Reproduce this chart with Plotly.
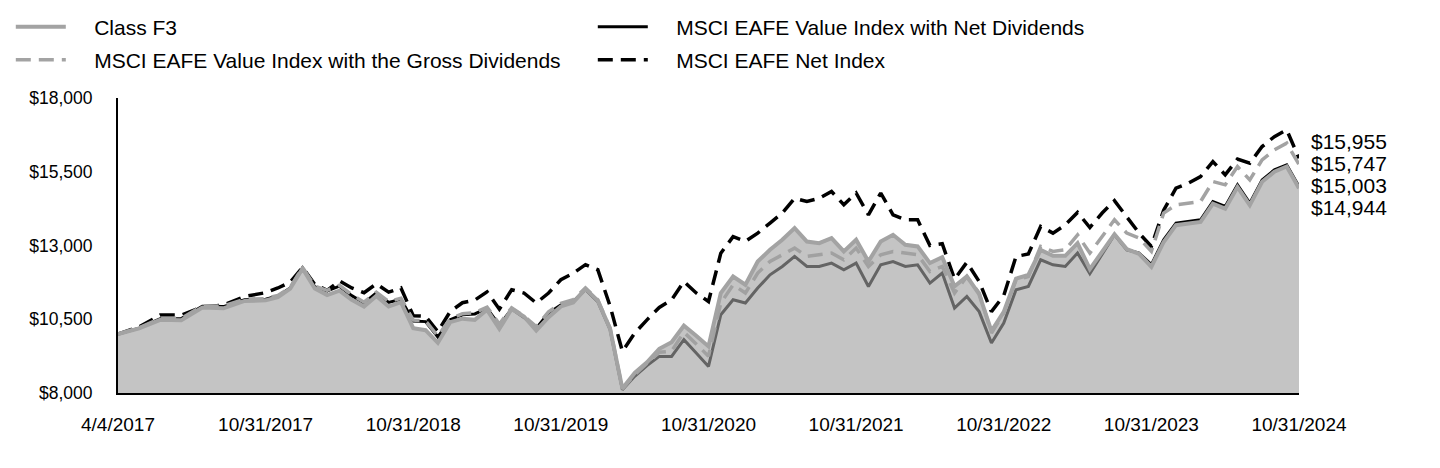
import numpy as np
import pandas as pd
import plotly.graph_objects as go

# ---- data ----
tick_labels = ["4/4/2017", "10/31/2017", "10/31/2018", "10/31/2019", "10/31/2020",
               "10/31/2021", "10/31/2022", "10/31/2023", "10/31/2024"]

dates = [pd.Timestamp("2017-04-04")] + list(
    pd.date_range("2017-04-30", "2024-10-31", freq=pd.offsets.MonthEnd()))

class_f3 = [
    10000, 10190, 10480, 10470, 10900, 10870, 11120, 11140, 11250, 11540,
    12220, 11540, 11320, 11470, 11160, 10930, 11290, 10930, 11080, 10200, 10130, 9700,
    10400, 10520, 10480, 10820, 10180, 10850, 10595, 10120, 10570, 10935, 11070, 11530,
    11130, 10180, 8150, 8678, 9040, 9500, 9720, 10280, 9940, 9580, 11388, 11950,
    11669, 12458, 12854, 13193, 13589, 13136, 13080, 13250, 12798, 13193, 12458, 13136,
    13362, 13024, 12969, 12404, 12600, 11620, 11950, 11350, 10100, 10750, 11880, 12000,
    12850, 12650, 12650, 13080, 12200, 12800, 13380, 12880, 12720, 12280, 13120, 13690,
    13740, 13800, 14420, 14250, 14980, 14370, 15160, 15500, 15680, 14944,
]
value_net = [
    10000, 10200, 10520, 10520, 10940, 10930, 11160, 11180, 11290, 11560,
    12240, 11600, 11460, 11620, 11300, 11050, 11390, 11070, 11180, 10440, 10420, 9900,
    10480, 10650, 10680, 10870, 10300, 10850, 10560, 10200, 10710, 10990, 11100, 11500,
    11100, 10150, 8112, 8565, 8930, 9240, 9240, 9806, 9355, 8901, 10652, 11160,
    11049, 11557, 12007, 12289, 12630, 12289, 12289, 12404, 12177, 12404, 11611, 12346,
    12458, 12289, 12346, 11726, 12065, 10880, 11272, 10760, 9694, 10371, 11499, 11611,
    12516, 12346, 12289, 12743, 12050, 12686, 13362, 12854, 12743, 12350, 13193, 13759,
    13815, 13871, 14490, 14323, 15056, 14436, 15225, 15564, 15733, 15003,
]
value_gross = [
    10000, 10210, 10530, 10530, 10950, 10950, 11180, 11200, 11310, 11580,
    12260, 11620, 11480, 11650, 11330, 11080, 11420, 11100, 11210, 10470, 10450, 9930,
    10520, 10690, 10720, 10910, 10340, 10890, 10610, 10250, 10750, 11040, 11160, 11560,
    11160, 10190, 8140, 8620, 9010, 9380, 9420, 10060, 9660, 9250, 11049, 11669,
    11388, 12065, 12458, 12686, 12912, 12630, 12686, 12743, 12516, 12912, 12289, 12686,
    12798, 12743, 12686, 12119, 12289, 11388, 11950, 11388, 10033, 10710, 11838, 11950,
    12969, 12798, 12854, 13362, 12743, 13305, 13871, 13420, 13250, 12800, 14100, 14379,
    14436, 14490, 15168, 15056, 15676, 15225, 15903, 16241, 16469, 15747,
]
eafe_net = [
    10000, 10240, 10640, 10640, 10920, 10980, 11270, 11400, 11560, 11760,
    12260, 11680, 11480, 11800, 11560, 11400, 11700, 11420, 11560, 10620, 10600, 10080,
    10760, 11060, 11150, 11430, 10840, 11500, 11390, 11050, 11390, 11840, 12060, 12350,
    12180, 10950, 9410, 10030, 10480, 10900, 11160, 11780, 11390, 11100, 12740, 13300,
    13140, 13420, 13760, 14100, 14600, 14490, 14600, 14830, 14380, 14780, 14040, 14780,
    14040, 13870, 13870, 13000, 13060, 11860, 12430, 11780, 10760, 11300, 12630, 12710,
    13646, 13420, 13700, 14120, 13610, 14100, 14520, 13980, 13420, 12969, 14200, 14944,
    15114, 15337, 15846, 15395, 15930, 15791, 16354, 16692, 16919, 15955,
]

names = {
    "f3": "Class F3",
    "gross": "MSCI EAFE Value Index with the Gross Dividends",
    "net": "MSCI EAFE Value Index with Net Dividends",
    "eafe": "MSCI EAFE Net Index",
}

# ---- axis: tick labels are equally spaced, points spaced evenly between them ----
tick_dates = pd.to_datetime(tick_labels, format="%m/%d/%Y")
date_index = {d: i for i, d in enumerate(dates)}
anchor_idx = [date_index[d] for d in tick_dates]
tick_pos = list(range(len(tick_labels)))
x = np.interp(np.arange(len(dates)), anchor_idx, tick_pos)

FONT = "Liberation Sans, Arial, Helvetica, sans-serif"
GRAY = "#a3a3a3"
PAD = "\u00a0\u00a0\u00a0\u00a0"   # gap between legend sample and text

fig = go.Figure()
fig.add_trace(go.Scatter(x=x, y=value_net, name=PAD + names["net"], mode="lines",
                         line=dict(color="#000000", width=3), legend="legend"))
fig.add_trace(go.Scatter(x=x, y=eafe_net, name=PAD + names["eafe"], mode="lines",
                         line=dict(color="#000000", width=3.5, dash="15px,8px"),
                         legend="legend2"))
fig.add_trace(go.Scatter(x=x, y=value_gross, name=PAD + names["gross"], mode="lines",
                         line=dict(color=GRAY, width=3.5, dash="15px,8px"),
                         legend="legend2", legendrank=1))
# Class F3 area (semi-transparent fill) and its line
fig.add_trace(go.Scatter(x=x, y=class_f3, mode="none", fill="tozeroy",
                         fillcolor="rgba(160,160,160,0.624)", showlegend=False,
                         hoverinfo="skip"))
fig.add_trace(go.Scatter(x=x, y=class_f3, name=PAD + names["f3"], mode="lines",
                         line=dict(color=GRAY, width=4), legend="legend", legendrank=1))

# end-value labels, stacked
finals = sorted([class_f3[-1], value_net[-1], value_gross[-1], eafe_net[-1]], reverse=True)
for k, v in enumerate(finals):
    fig.add_annotation(x=x[-1], y=finals[0], xref="x", yref="y", text=f"${v:,.0f}",
                       showarrow=False, xanchor="left", yanchor="middle",
                       xshift=10, yshift=17 - 22 * k,
                       font=dict(family=FONT, size=21, color="#000000"))

leg_common = dict(orientation="h", xref="container", yref="container",
                  x=0.0075, xanchor="left", yanchor="middle",
                  entrywidth=517, entrywidthmode="pixels",
                  itemwidth=50, traceorder="normal",
                  font=dict(family=FONT, size=21, color="#000000"),
                  bgcolor="rgba(0,0,0,0)", borderwidth=0)

fig.update_layout(
    width=1440, height=468,
    margin=dict(l=118, r=141, t=98, b=75, autoexpand=False),
    paper_bgcolor="white", plot_bgcolor="white",
    font=dict(family=FONT, color="#000000"),
    showlegend=True,
    legend=dict(leg_common, y=1 - 27 / 468),
    legend2=dict(leg_common, y=1 - 60 / 468),
    xaxis=dict(range=[0, tick_pos[-1]], tickmode="array", tickvals=tick_pos,
               ticktext=tick_labels, showgrid=False, zeroline=False,
               showline=True, linecolor="#000000", linewidth=2, ticks="",
               ticklabelstandoff=13,
               tickfont=dict(family=FONT, size=19, color="#000000")),
    yaxis=dict(range=[8000, 18000], tickmode="array",
               tickvals=[8000, 10500, 13000, 15500, 18000],
               ticktext=["$8,000", "$10,500", "$13,000", "$15,500", "$18,000"],
               showgrid=False, zeroline=False, showline=True, linecolor="#000000",
               linewidth=2, ticks="", ticklabelstandoff=20,
               tickfont=dict(family=FONT, size=17.5, color="#000000")),
)

fig.write_html("out.html", config={"displayModeBar": False},
               post_script="document.body.style.margin='0';")
